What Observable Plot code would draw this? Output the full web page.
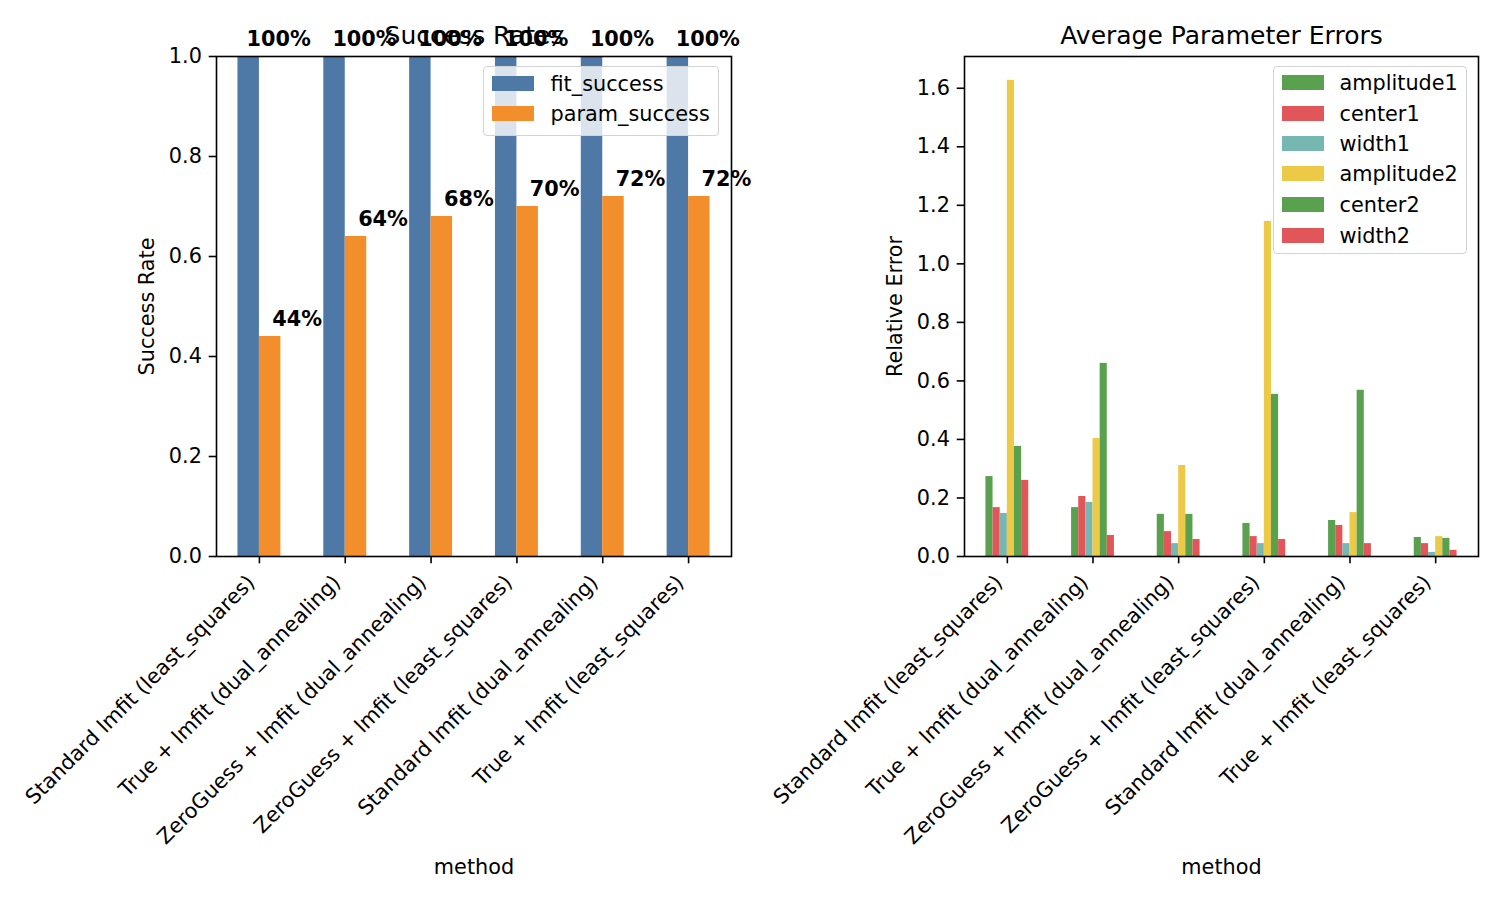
<!DOCTYPE html>
<html>
<head>
<meta charset="utf-8">
<script src="https://cdn.jsdelivr.net/npm/d3@7"></script>
<script src="https://cdn.jsdelivr.net/npm/@observablehq/plot@0.6"></script>
<style>
  html, body { margin: 0; padding: 0; background: white; }
  #wrap { position: relative; width: 1500px; height: 900px; background: white; font-family: "DejaVu Sans", sans-serif; overflow: hidden; }
  #wrap svg { position: absolute; top: 0; overflow: visible; }
  .legend { position: absolute; background: rgba(255,255,255,0.8); border: 1.5px solid #d4d4d4; border-radius: 4px; box-sizing: border-box; }
  .legend .sw { position: absolute; width: 42px; height: 15px; }
  .legend .lb { position: absolute; font-size: 20.8px; line-height: 24px; color: black; white-space: nowrap; }
</style>
</head>
<body>
<div id="wrap"></div>
<script>
const methods = [
  "Standard lmfit (least_squares)",
  "True + lmfit (dual_annealing)",
  "ZeroGuess + lmfit (dual_annealing)",
  "ZeroGuess + lmfit (least_squares)",
  "Standard lmfit (dual_annealing)",
  "True + lmfit (least_squares)"
];
const fitSuccess = [1.0, 1.0, 1.0, 1.0, 1.0, 1.0];
const paramSuccess = [0.44, 0.64, 0.68, 0.70, 0.72, 0.72];
const successSeries = ["fit_success", "param_success"];
const successColors = ["#4e79a7", "#f28e2b"];

const params = ["amplitude1", "center1", "width1", "amplitude2", "center2", "width2"];
const paramColors = ["#59a14f", "#e15759", "#76b7b2", "#edc948", "#59a14f", "#e15759"];
const errAmplitude1 = [0.273, 0.167, 0.144, 0.113, 0.123, 0.065];
const errCenter1    = [0.167, 0.205, 0.085, 0.068, 0.106, 0.044];
const errWidth1     = [0.147, 0.185, 0.044, 0.044, 0.044, 0.014];
const errAmplitude2 = [1.627, 0.403, 0.311, 1.145, 0.150, 0.068];
const errCenter2    = [0.376, 0.660, 0.144, 0.554, 0.568, 0.062];
const errWidth2     = [0.260, 0.072, 0.058, 0.058, 0.044, 0.021];
const errSeries = [errAmplitude1, errCenter1, errWidth1, errAmplitude2, errCenter2, errWidth2];

const leftTicks = [0, 0.2, 0.4, 0.6, 0.8, 1.0];
const rightTicks = [0, 0.2, 0.4, 0.6, 0.8, 1.0, 1.2, 1.4, 1.6];

const idx = methods.map((_, i) => i);
const FS = 20.8, TICK = 7.3, SW = 1.6;

const successRows = [];
successSeries.forEach((s, k) => {
  const vals = k === 0 ? fitSuccess : paramSuccess;
  vals.forEach((v, i) => successRows.push({i, k, series: s, value: v, w: 0.25}));
});
const errRows = [];
params.forEach((p, k) => {
  errSeries[k].forEach((v, i) => errRows.push({i, k, param: p, value: v, w: 0.5 / params.length}));
});

const style = {fontFamily: "DejaVu Sans", fontSize: FS + "px", color: "black", background: "transparent", overflow: "visible"};

function commonMarks(title, ylabel, ticks) {
  return [
    Plot.axisY({ticks, tickSize: TICK, tickPadding: TICK, tickFormat: d3.format(".1f"), strokeWidth: SW, label: null, fontSize: FS}),
    Plot.axisX({ticks: idx, tickSize: TICK, tickFormat: () => "", strokeWidth: SW, label: null}),
    Plot.text(idx, {x: d => d, text: d => methods[d], frameAnchor: "bottom", rotate: -45, textAnchor: "end", lineAnchor: "bottom", dx: -3.5, dy: 27.2, fontSize: FS}),
    Plot.text([title], {frameAnchor: "top", textAnchor: "middle", lineAnchor: "bottom", dy: -12.5, fontSize: 25}),
    Plot.text(["method"], {frameAnchor: "bottom", textAnchor: "middle", lineAnchor: "bottom", dy: 317, fontSize: FS}),
    Plot.text([ylabel], {frameAnchor: "left", textAnchor: "middle", lineAnchor: "middle", rotate: -90, dx: -69, fontSize: FS}),
    Plot.frame({stroke: "black", strokeWidth: SW})
  ];
}

const left = Plot.plot({
  width: 750, height: 900,
  marginLeft: 216, marginRight: 19, marginTop: 56, marginBottom: 344,
  style,
  x: {type: "linear", domain: [-0.5, 5.5]},
  y: {domain: [0, 1]},
  marks: [
    Plot.rectY(successRows, {x1: d => d.i - 0.25 + d.k * d.w, x2: d => d.i - 0.25 + (d.k + 1) * d.w, y1: 0, y2: "value", fill: d => successColors[d.k]}),
    Plot.text(successRows, {x: d => d.i + (d.k === 0 ? -0.15 : 0.15), y: "value", text: d => d3.format(".0%")(d.value), textAnchor: "start", lineAnchor: "bottom", dy: -10.5, fontWeight: "bold", fontSize: FS}),
    ...commonMarks("Success Rates", "Success Rate", leftTicks)
  ]
});
left.style.left = "0px";

const right = Plot.plot({
  width: 750, height: 900,
  marginLeft: 214, marginRight: 22, marginTop: 56, marginBottom: 344,
  style,
  x: {type: "linear", domain: [-0.5, 5.5]},
  y: {domain: [0, 1.7085]},
  marks: [
    Plot.rectY(errRows, {x1: d => d.i - 0.25 + d.k * d.w, x2: d => d.i - 0.25 + (d.k + 1) * d.w, y1: 0, y2: "value", fill: d => paramColors[d.k]}),
    ...commonMarks("Average Parameter Errors", "Relative Error", rightTicks)
  ]
});
right.style.left = "750px";

const wrap = document.getElementById("wrap");
wrap.appendChild(left);
wrap.appendChild(right);

function legend(labels, colors, box, rowY, swX, textX) {
  const div = document.createElement("div");
  div.className = "legend";
  Object.assign(div.style, {left: box.x + "px", top: box.y + "px", width: box.w + "px", height: box.h + "px"});
  labels.forEach((lab, j) => {
    const sw = document.createElement("div");
    sw.className = "sw";
    Object.assign(sw.style, {left: (swX - box.x - 1.5) + "px", top: (rowY[j] - 7.5 - box.y - 1.5) + "px", background: colors[j]});
    div.appendChild(sw);
    const lb = document.createElement("div");
    lb.className = "lb";
    lb.textContent = lab;
    Object.assign(lb.style, {left: (textX - box.x - 1.5) + "px", top: (rowY[j] - 12 - box.y - 1.5) + "px"});
    div.appendChild(lb);
  });
  wrap.appendChild(div);
}
legend(successSeries, successColors, {x: 483, y: 66, w: 236, h: 70}, [84, 114], 492, 551);
legend(params, paramColors, {x: 1273, y: 66, w: 194, h: 188}, [83, 114, 144, 174, 205, 236], 1282, 1340);
</script>
</body>
</html>
